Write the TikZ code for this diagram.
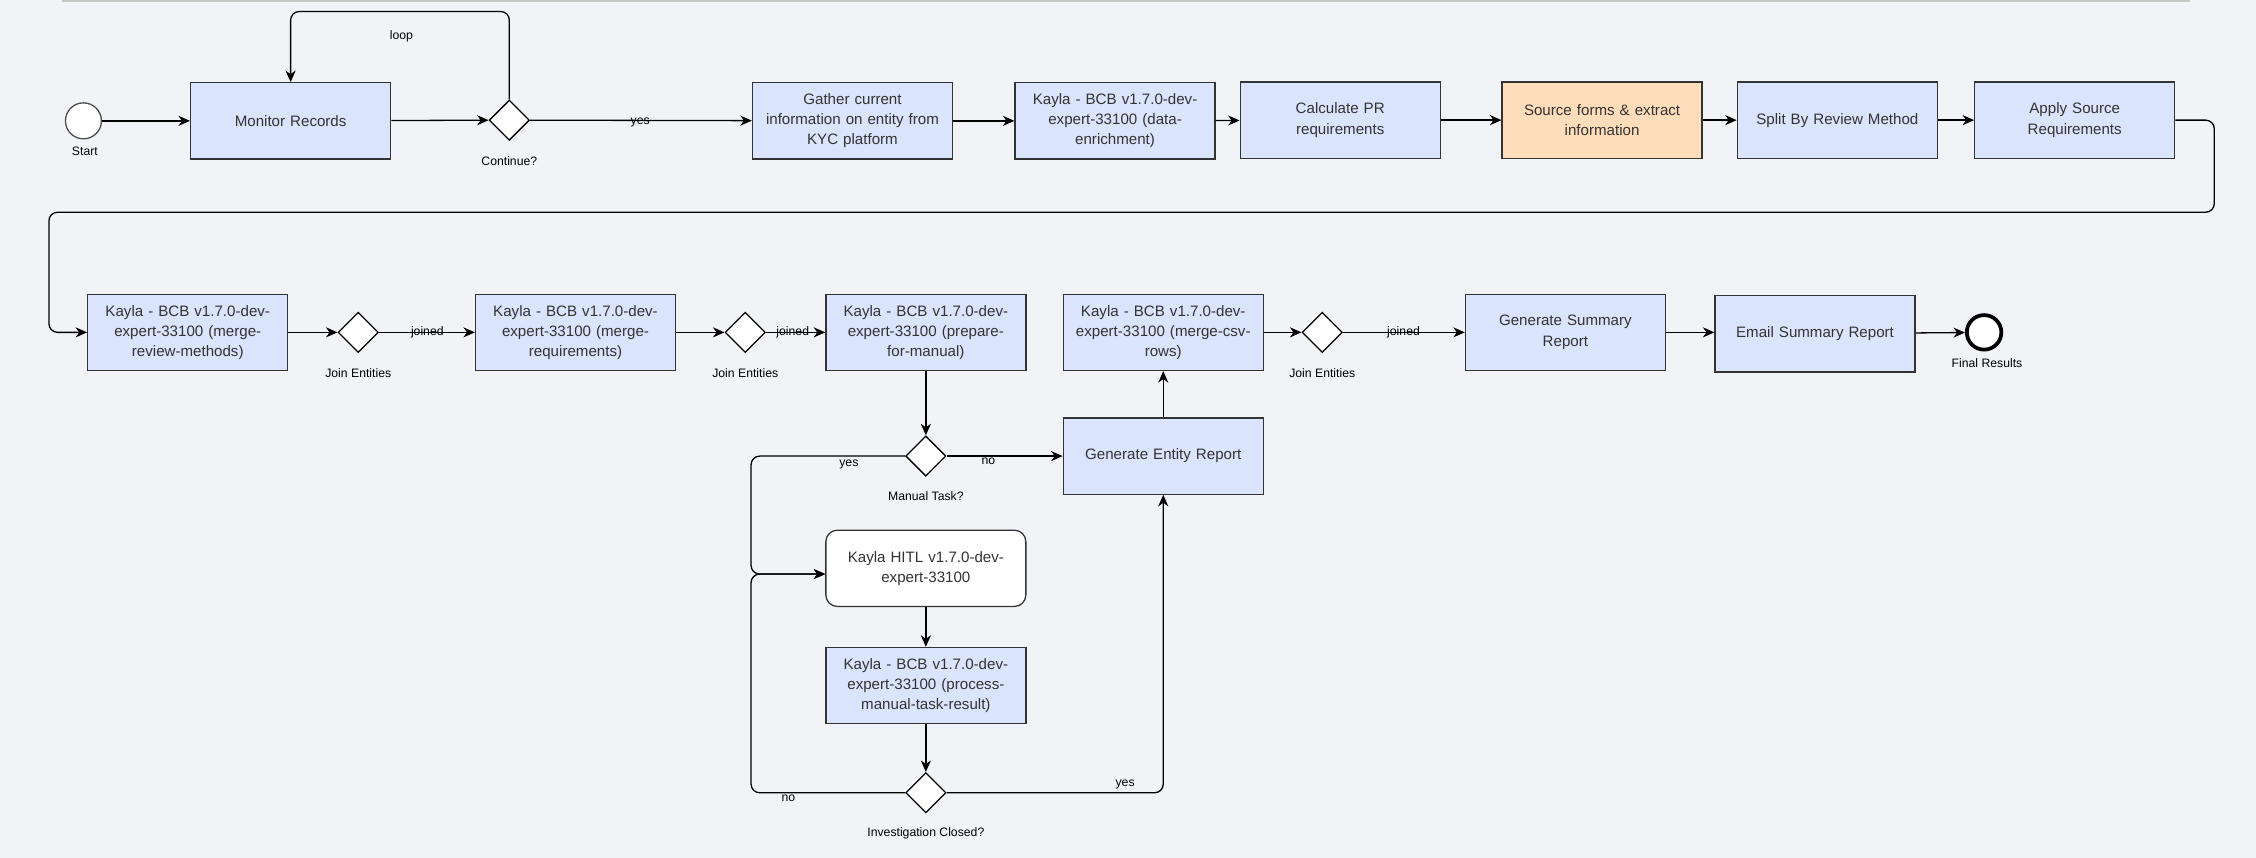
\documentclass[tikz,border=0pt]{standalone}
\usepackage{fontspec}
\setmainfont{Liberation Sans}
\usetikzlibrary{arrows.meta,shapes.geometric}
\definecolor{bg}{HTML}{F2F3F7}
\definecolor{boxfill}{HTML}{DAE4FC}
\definecolor{orangefill}{HTML}{FFDDBB}
\definecolor{boxtext}{HTML}{333333}
\tikzset{
  proc/.style={draw=black!80, line width=0.9pt, fill=boxfill, minimum height=53pt,
    text width=135pt, inner sep=2pt, align=center, text=boxtext,
    font=\fontsize{10.5}{14}\selectfont},
  gate/.style={diamond, draw=black, line width=0.9pt, fill=white, minimum width=28pt,
    minimum height=28pt, inner sep=0pt},
  lbl/.style={font=\fontsize{8.5}{10}\selectfont, text=black, inner sep=1pt},
  flow/.style={draw=black, line width=0.9pt, -{Stealth[length=8pt,width=7pt,inset=2.5pt]}, rounded corners=6pt},
}
\begin{document}
\begin{tikzpicture}[x=1pt,y=-1pt]
\fill[bg] (0,0) rectangle (1568,596);
\useasboundingbox (0,0) rectangle (1568,596);
\draw[gray!45, line width=1.2pt] (43,0.6) -- (1522,0.6);

% top row
\node[circle, draw=black!70, line width=0.9pt, fill=white, minimum size=25pt, inner sep=0pt] (start) at (58,84) {};
\node[lbl] (startl) at (59,105.5) {Start};
\node[proc] (monitor) at (202,84) {Monitor Records};
\node[gate] (cont) at (354,83.5) {};
\node[lbl] (contl) at (354,112) {Continue?};
\node[lbl] (loopl) at (279,25.5) {loop};
\node[proc] (gather) at (592.5,84) {Gather current\\information on entity from\\KYC platform};
\node[proc] (enrich) at (775,84) {Kayla - BCB v1.7.0-dev-\\expert-33100 (data-\\enrichment)};
\node[proc] (calc) at (931.5,83.5) {Calculate PR\\requirements};
\node[proc, fill=orangefill] (source) at (1113.5,83.5) {Source forms \& extract\\information};
\node[proc] (split) at (1277,83.5) {Split By Review Method};
\node[proc] (apply) at (1442,83.5) {Apply Source\\Requirements};

% second row
\node[proc] (mrm) at (130.5,231) {Kayla - BCB v1.7.0-dev-\\expert-33100 (merge-\\review-methods)};
\node[gate] (j1) at (249,231) {};
\node[lbl] (j1l) at (249,259) {Join Entities};
\node[proc] (mreq) at (400,231) {Kayla - BCB v1.7.0-dev-\\expert-33100 (merge-\\requirements)};
\node[gate] (j2) at (518,231) {};
\node[lbl] (j2l) at (518,259) {Join Entities};
\node[proc] (prep) at (643.5,231) {Kayla - BCB v1.7.0-dev-\\expert-33100 (prepare-\\for-manual)};
\node[proc] (mcsv) at (808.5,231) {Kayla - BCB v1.7.0-dev-\\expert-33100 (merge-csv-\\rows)};
\node[gate] (j3) at (919,231) {};
\node[lbl] (j3l) at (919,259) {Join Entities};
\node[proc] (gsr) at (1088,231) {Generate Summary\\Report};
\node[proc] (esr) at (1261.5,232) {Email Summary Report};
\node[circle, draw=black, line width=2.6pt, fill=white, minimum size=24pt, inner sep=0pt] (final) at (1379,231) {};
\node[lbl] (finall) at (1381,252.5) {Final Results};

% lower part
\node[gate] (manual) at (643.5,317) {};
\node[lbl] (manuall) at (643.5,344.5) {Manual Task?};
\node[proc] (ger) at (808.5,317) {Generate Entity Report};
\node[proc, fill=white, rounded corners=8pt] (hitl) at (643.5,395) {Kayla HITL v1.7.0-dev-\\expert-33100};
\node[proc] (pmt) at (643.5,476.5) {Kayla - BCB v1.7.0-dev-\\expert-33100 (process-\\manual-task-result)};
\node[gate] (inv) at (643.5,551) {};
\node[lbl] (invl) at (643.5,579) {Investigation Closed?};

% coordinates
\coordinate (looptop) at (202,8);
\coordinate (r1) at (1539,147.5);
\coordinate (l1) at (34,147.5);
\coordinate (ycorner) at (522,317);
\coordinate (merge) at (522,399);
\coordinate (ncorner) at (522,551);

% connectors
\draw[flow] (start) -- (monitor);
\draw[flow] (monitor) -- (cont);
\draw[flow] (cont.north) |- (looptop) -- (monitor.north);
\draw[flow] (cont) -- (gather);
\node[lbl] (yes1) at (445,85) {yes};
\draw[flow] (gather) -- (enrich);
\draw[flow] (enrich) -- (calc);
\draw[flow] (calc) -- (source);
\draw[flow] (source) -- (split);
\draw[flow] (split) -- (apply);
\draw[flow] (apply.east) -| (r1) -- (l1) |- (mrm.west);

\draw[flow] (mrm) -- (j1);
\draw[flow] (j1) -- (mreq);
\node[lbl] (jn1) at (297,231) {joined};
\draw[flow] (mreq) -- (j2);
\draw[flow] (j2) -- (prep);
\node[lbl] (jn2) at (551,231) {joined};
\draw[flow] (mcsv) -- (j3);
\draw[flow] (j3) -- (gsr);
\node[lbl] (jn3) at (975.5,231) {joined};
\draw[flow] (gsr.east) -- (gsr.east -| esr.west);
\draw[flow] (esr) -- (final);

\draw[flow] (prep) -- (manual);
\draw[flow] (manual) -- (ger);
\node[lbl] (no1) at (687,320.5) {no};
\draw[flow] (ger) -- (mcsv);
\draw[flow] (manual.west) -- (ycorner) -- (merge) -- (merge -| hitl.west);
\node[lbl] (yes2) at (590,323) {yes};
\draw[flow] (hitl) -- (pmt);
\draw[flow] (pmt) -- (inv);
\draw[flow] (inv.west) -- (ncorner) -- (merge) -- (merge -| hitl.west);
\node[lbl] (no2) at (548,554.5) {no};
\draw[flow] (inv.east) -| (ger.south);
\node[lbl] (yes3) at (782,545.5) {yes};
\end{tikzpicture}
\end{document}
